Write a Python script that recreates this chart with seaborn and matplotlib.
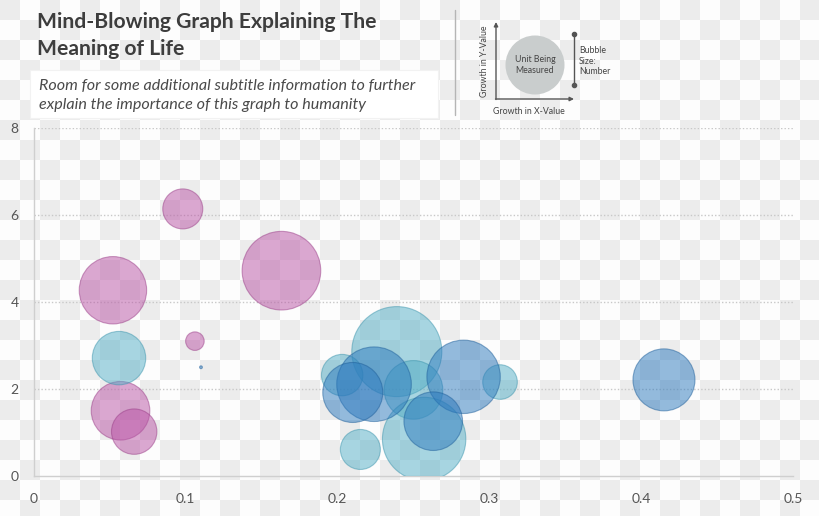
import numpy as np
import pandas as pd
import matplotlib
matplotlib.use("Agg")
import matplotlib.pyplot as plt
import matplotlib.patches as mpatches
import seaborn as sns

# ---------------- data ----------------
x_growth = [0.098, 0.163, 0.052, 0.106, 0.057, 0.066,
            0.056, 0.239, 0.203, 0.250, 0.307, 0.257, 0.215,
            0.224, 0.210, 0.283, 0.263, 0.415, 0.110]
y_growth = [6.14, 4.72, 4.27, 3.10, 1.50, 1.02,
            2.71, 2.86, 2.32, 1.98, 2.16, 0.85, 0.61,
            2.11, 1.92, 2.28, 1.26, 2.21, 2.50]
bubble_size = [400, 1545, 1135, 86, 858, 515,
               713, 2025, 428, 858, 299, 1739, 400,
               1391, 900, 1347, 858, 961, 2]
group = ["pink"] * 6 + ["light"] * 7 + ["blue"] * 6

x_ticks = [0, 0.1, 0.2, 0.3, 0.4, 0.5]
x_tick_labels = ["0", "0.1", "0.2", "0.3", "0.4", "0.5"]
y_ticks = [0, 2, 4, 6, 8]
y_tick_labels = ["0", "2", "4", "6", "8"]

title_lines = ["Mind-Blowing Graph Explaining The", "Meaning of Life"]
subtitle_lines = ["Room for some additional subtitle information to further",
                  "explain the importance of this graph to humanity"]

df = pd.DataFrame({"x": x_growth, "y": y_growth, "size": bubble_size, "group": group})

# ---------------- styling ----------------
W, H, DPI = 820, 516, 100
sns.set_theme(style="white")
plt.rcParams["font.family"] = ["Lato", "DejaVu Sans"]

fig = plt.figure(figsize=(W / DPI, H / DPI), dpi=DPI, facecolor="white")

# transparency-style checkerboard background
cell = 20
yy, xx = np.mgrid[0:H, 0:W]
checker = ((xx // cell + yy // cell) % 2 == 0)
bg = np.where(checker, 236, 253).astype(np.uint8)
bg_rgb = np.dstack([bg, bg, bg])
fig.figimage(bg_rgb, xo=0, yo=0, zorder=-10, origin="upper")

def fx(px):
    return px / W

def fy(py):
    return 1 - py / H

ax_l, ax_r, ax_t, ax_b = 34, 793, 128, 476
ax = fig.add_axes([fx(ax_l), fy(ax_b), (ax_r - ax_l) / W, (ax_b - ax_t) / H])
ax.set_facecolor("none")

palette = {"pink": "#b953a5", "light": "#53afc7", "blue": "#2a78bd"}
edges = {"pink": "#9a3f88", "light": "#3d95ad", "blue": "#1f5f9a"}

smax_val = 2025.0
pt_per_px = 72.0 / DPI
smax_pts = (2 * np.sqrt(smax_val) * pt_per_px) ** 2

for g in ["pink", "light", "blue"]:
    sub = df[df["group"] == g]
    sns.scatterplot(data=sub, x="x", y="y", size="size",
                    sizes=(0, smax_pts), size_norm=(0, smax_val),
                    color=palette[g], edgecolor=edges[g], linewidth=0.8,
                    alpha=0.5, legend=False, ax=ax, zorder=3)

ax.set_xlim(0, 0.5)
ax.set_ylim(0, 8)
ax.set_xlabel("")
ax.set_ylabel("")
ax.set_xticks(x_ticks)
ax.set_xticklabels(x_tick_labels)
ax.set_yticks(y_ticks)
ax.set_yticklabels(y_tick_labels)
ax.tick_params(axis="both", length=0, labelsize=10, labelcolor="#555555")
ax.tick_params(axis="x", pad=12)
ax.tick_params(axis="y", pad=14)
for lab in ax.get_yticklabels():
    lab.set_horizontalalignment("center")

for v in [2, 4, 6, 8]:
    ax.axhline(v, color="#c8c8c8", lw=1.0, ls=(0, (1, 1.5)), zorder=1)

for s in ["top", "right"]:
    ax.spines[s].set_visible(False)
for s in ["left", "bottom"]:
    ax.spines[s].set_color("#cfcfcf")
    ax.spines[s].set_linewidth(1.0)

# ---------------- titles ----------------
fig.text(fx(37), fy(28), title_lines[0], fontsize=15.2, fontweight="bold",
         color="#3d3d3d", va="baseline", ha="left")
fig.text(fx(37), fy(55), title_lines[1], fontsize=15.2, fontweight="bold",
         color="#3d3d3d", va="baseline", ha="left")

box = mpatches.Rectangle((fx(30), fy(118)), (438 - 30) / W, (118 - 70) / H,
                         transform=fig.transFigure, facecolor="white",
                         edgecolor="#f2f2f2", lw=0.8, zorder=0)
fig.patches.append(box)
fig.text(fx(39), fy(90), subtitle_lines[0], fontsize=11.6, style="italic",
         fontweight="normal", color="#4a4a4a", va="baseline", ha="left", zorder=2)
fig.text(fx(39), fy(109), subtitle_lines[1], fontsize=11.6, style="italic",
         fontweight="normal", color="#4a4a4a", va="baseline", ha="left", zorder=2)

# separator line
fig.add_artist(plt.Line2D([fx(455), fx(455)], [fy(10), fy(115)],
                          transform=fig.transFigure, color="#b5b5b5", lw=1))

# ---------------- mini legend diagram ----------------
lx0, lx1, ly0, ly1 = 460, 650, 0, 125
lax = fig.add_axes([fx(lx0), fy(ly1), (lx1 - lx0) / W, (ly1 - ly0) / H])
lax.set_xlim(lx0, lx1)
lax.set_ylim(ly1, ly0)
lax.axis("off")
lax.set_facecolor("none")

lax.annotate("", xy=(496, 22), xytext=(496, 99.5),
             arrowprops=dict(arrowstyle="-|>", color="#555555", lw=1,
                             mutation_scale=6, shrinkA=0, shrinkB=0))
lax.annotate("", xy=(574, 99), xytext=(495.5, 99),
             arrowprops=dict(arrowstyle="-|>", color="#555555", lw=1,
                             mutation_scale=6, shrinkA=0, shrinkB=0))
lax.add_patch(mpatches.Circle((535, 65), 29.5, facecolor="#c9cdcd", edgecolor="none"))
lax.text(535, 65, "Unit Being\nMeasured", ha="center", va="center",
         fontsize=6.3, color="#444444", linespacing=1.3)
lax.text(485, 61, "Growth in Y-Value", rotation=90, ha="center", va="center",
         fontsize=6.3, color="#444444")
lax.text(529, 111, "Growth in X-Value", ha="center", va="center",
         fontsize=6.3, color="#444444")
lax.plot([573.5, 573.5], [34, 85], color="#555555", lw=1)
lax.plot([573.5, 573.5], [34, 85], "o", color="#555555", ms=3)
lax.text(579, 61, "Bubble\nSize:\nNumber", ha="left", va="center",
         fontsize=6.3, color="#444444", linespacing=1.25)

fig.savefig("out.png", dpi=DPI, facecolor="white")
